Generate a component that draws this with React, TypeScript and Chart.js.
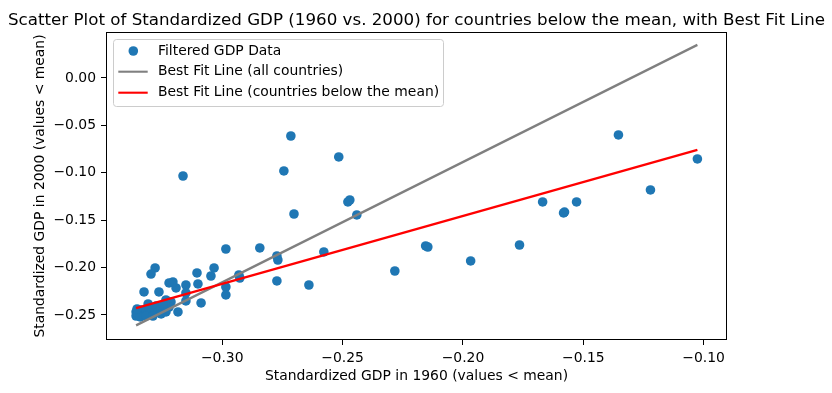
import React, { useEffect, useRef } from "react";
import { Chart, registerables } from "chart.js";

Chart.register(...registerables);

const titleText =
  "Scatter Plot of Standardized GDP (1960 vs. 2000) for countries below the mean, with Best Fit Line";
const xTitle = "Standardized GDP in 1960 (values < mean)";
const yTitle = "Standardized GDP in 2000 (values < mean)";
const seriesLabels = [
  "Filtered GDP Data",
  "Best Fit Line (all countries)",
  "Best Fit Line (countries below the mean)",
];

const gdp1960: number[] = [
  -0.1026, -0.1354, -0.1221, -0.1528, -0.1578, -0.1582, -0.1669, -0.1765, -0.1968, -0.2155,
  -0.2146, -0.2283, -0.2441, -0.2478, -0.247, -0.2516, -0.2578, -0.264, -0.2702, -0.2715,
  -0.2744, -0.2773, -0.2769, -0.2773, -0.2844, -0.2931, -0.2985, -0.2985, -0.2985, -0.3034,
  -0.3047, -0.2927, -0.3088, -0.3105, -0.3101, -0.3151, -0.3151, -0.3151, -0.3163, -0.3192,
  -0.3205, -0.3221, -0.3213, -0.3184, -0.3221, -0.3234, -0.3279, -0.3296, -0.3325, -0.3263,
  -0.3358, -0.3358, -0.335, -0.3337, -0.3329, -0.3317, -0.3304, -0.3296, -0.3283, -0.3275,
  -0.3267, -0.3254, -0.3246, -0.3341, -0.3317, -0.3288, -0.3254, -0.3354, -0.3308, -0.3234,
];
const gdp2000: number[] = [
  -0.0854, -0.0601, -0.1181, -0.1308, -0.1414, -0.1424, -0.1308, -0.1762, -0.193, -0.1772,
  -0.1783, -0.2036, -0.1445, -0.1308, -0.1287, -0.0833, -0.1835, -0.2184, -0.1435, -0.0612,
  -0.0981, -0.1878, -0.192, -0.2141, -0.1793, -0.2078, -0.1804, -0.2205, -0.2289, -0.2004,
  -0.2089, -0.211, -0.2373, -0.2057, -0.2173, -0.2184, -0.2268, -0.2352, -0.1034, -0.2215,
  -0.2152, -0.2162, -0.2363, -0.2468, -0.2416, -0.2342, -0.2004, -0.2068, -0.2257, -0.2257,
  -0.2468, -0.2511, -0.2489, -0.2447, -0.25, -0.2458, -0.2426, -0.2479, -0.2447, -0.2405,
  -0.2468, -0.2437, -0.2395, -0.2521, -0.2511, -0.2511, -0.2489, -0.2437, -0.2384, -0.2468,
];

const fitX: number[] = [-0.3358, -0.1026];
const fitAllY: number[] = [-0.261, 0.0349];
const fitBelowY: number[] = [-0.2428, -0.0759];

const xTicks: number[] = [-0.3, -0.25, -0.2, -0.15, -0.1];
const yTicks: number[] = [-0.25, -0.2, -0.15, -0.1, -0.05, 0.0];
const xRange: number[] = [-0.3483, -0.0903];
const yRange: number[] = [-0.2764, 0.0485];

const FONT = "DejaVu Sans";
const BLUE = "#1f77b4";
const GRAY = "#808080";
const RED = "#ff0000";

const fmt = (v: number) => (v < -1e-9 ? "\u2212" : "") + Math.abs(v).toFixed(2);

const framePlugin = {
  id: "frame",
  afterDatasetsDraw(chart: any) {
    const { ctx, chartArea } = chart;
    const { left, top, width, height } = chartArea;
    ctx.save();
    ctx.strokeStyle = "#000";
    ctx.lineWidth = 1;
    ctx.strokeRect(left + 0.5, top + 0.5, width - 1, height - 1);
    ctx.restore();
  },
};

const titlePlugin = {
  id: "mplTitle",
  afterDraw(chart: any) {
    const { ctx, chartArea } = chart;
    ctx.save();
    ctx.fillStyle = "#000";
    ctx.font = `16.7px "${FONT}"`;
    ctx.textAlign = "center";
    ctx.textBaseline = "alphabetic";
    ctx.fillText(titleText, (chartArea.left + chartArea.right) / 2, chartArea.top - 7);
    ctx.restore();
  },
};

const legendPlugin = {
  id: "mplLegend",
  afterDraw(chart: any) {
    const { ctx, chartArea } = chart;
    const { left, top } = chartArea;
    const x0 = left + 7.5;
    const y0 = top + 7.5;
    const w = 330;
    const h = 67;
    ctx.save();
    ctx.beginPath();
    if (ctx.roundRect) ctx.roundRect(x0, y0, w, h, 3);
    else ctx.rect(x0, y0, w, h);
    ctx.fillStyle = "rgba(255,255,255,0.8)";
    ctx.fill();
    ctx.strokeStyle = "#cccccc";
    ctx.lineWidth = 1;
    ctx.stroke();

    const rows = [top + 19, top + 39.7, top + 60.7];
    const textX = left + 52;
    ctx.beginPath();
    ctx.arc(left + 27.3, rows[0], 4.8, 0, Math.PI * 2);
    ctx.fillStyle = BLUE;
    ctx.fill();
    const lineColors = [GRAY, RED];
    for (let i = 0; i < 2; i++) {
      ctx.beginPath();
      ctx.moveTo(left + 12.3, rows[i + 1]);
      ctx.lineTo(left + 41.7, rows[i + 1]);
      ctx.strokeStyle = lineColors[i];
      ctx.lineWidth = 2.1;
      ctx.stroke();
    }
    ctx.fillStyle = "#000";
    ctx.font = `13.9px "${FONT}"`;
    ctx.textBaseline = "middle";
    ctx.textAlign = "left";
    for (let i = 0; i < 3; i++) {
      ctx.fillText(seriesLabels[i], textX, rows[i]);
    }
    ctx.restore();
  },
};

export default function App() {
  const canvasRef = useRef<HTMLCanvasElement | null>(null);

  useEffect(() => {
    document.body.style.margin = "0";
    const canvas = canvasRef.current;
    if (!canvas) return;

    const scatterData = gdp1960.map((x, i) => ({ x, y: gdp2000[i] }));
    const allLine = fitX.map((x, i) => ({ x, y: fitAllY[i] }));
    const belowLine = fitX.map((x, i) => ({ x, y: fitBelowY[i] }));

    const chart = new Chart(canvas, {
      type: "scatter",
      data: {
        datasets: [
          {
            label: seriesLabels[0],
            data: scatterData,
            backgroundColor: BLUE,
            borderColor: BLUE,
            pointRadius: 4.8,
            pointHoverRadius: 4.8,
            borderWidth: 0,
            order: 3,
          },
          {
            label: seriesLabels[1],
            data: allLine,
            showLine: true,
            borderColor: GRAY,
            backgroundColor: GRAY,
            borderWidth: 2.3,
            pointRadius: 0,
            pointHoverRadius: 0,
            order: 2,
          },
          {
            label: seriesLabels[2],
            data: belowLine,
            showLine: true,
            borderColor: RED,
            backgroundColor: RED,
            borderWidth: 2.3,
            pointRadius: 0,
            pointHoverRadius: 0,
            order: 1,
          },
        ],
      },
      options: {
        animation: false,
        responsive: false,
        devicePixelRatio: 1,
        events: [],
        layout: { padding: { left: 0, right: 105, top: 32, bottom: 0 } },
        plugins: {
          legend: { display: false },
          tooltip: { enabled: false },
          title: { display: false },
        },
        scales: {
          x: {
            type: "linear",
            min: xRange[0],
            max: xRange[1],
            afterBuildTicks: (axis: any) => {
              axis.ticks = xTicks.map((value) => ({ value }));
            },
            afterFit: (axis: any) => {
              axis.height = 53;
            },
            ticks: {
              color: "#000",
              font: { family: FONT, size: 13.9 },
              padding: 5,
              maxRotation: 0,
              autoSkip: false,
              callback: (v: any) => fmt(Number(v)),
            },
            grid: {
              display: true,
              drawOnChartArea: false,
              drawTicks: true,
              tickLength: 5,
              tickColor: "#000",
              tickWidth: 1,
            },
            border: { display: false },
            title: {
              display: true,
              text: xTitle,
              color: "#000",
              font: { family: FONT, size: 13.9, lineHeight: 1.2 },
              padding: { top: 0, bottom: 8.5 },
            },
          },
          y: {
            type: "linear",
            min: yRange[0],
            max: yRange[1],
            afterBuildTicks: (axis: any) => {
              axis.ticks = yTicks.map((value) => ({ value }));
            },
            afterFit: (axis: any) => {
              axis.width = 106;
            },
            ticks: {
              color: "#000",
              font: { family: FONT, size: 13.9 },
              padding: 5,
              autoSkip: false,
              callback: (v: any) => fmt(Number(v)),
            },
            grid: {
              display: true,
              drawOnChartArea: false,
              drawTicks: true,
              tickLength: 5,
              tickColor: "#000",
              tickWidth: 1,
            },
            border: { display: false },
            title: {
              display: true,
              text: yTitle,
              color: "#000",
              font: { family: FONT, size: 13.9, lineHeight: 1.2 },
              padding: { top: 32.5, bottom: 0 },
            },
          },
        },
      },
      plugins: [framePlugin, titlePlugin, legendPlugin],
    } as any);

    return () => {
      chart.destroy();
    };
  }, []);

  return (
    <div style={{ width: 832, height: 393, position: "relative", background: "#fff" }}>
      <canvas ref={canvasRef} width={832} height={393} style={{ display: "block" }} />
    </div>
  );
}
